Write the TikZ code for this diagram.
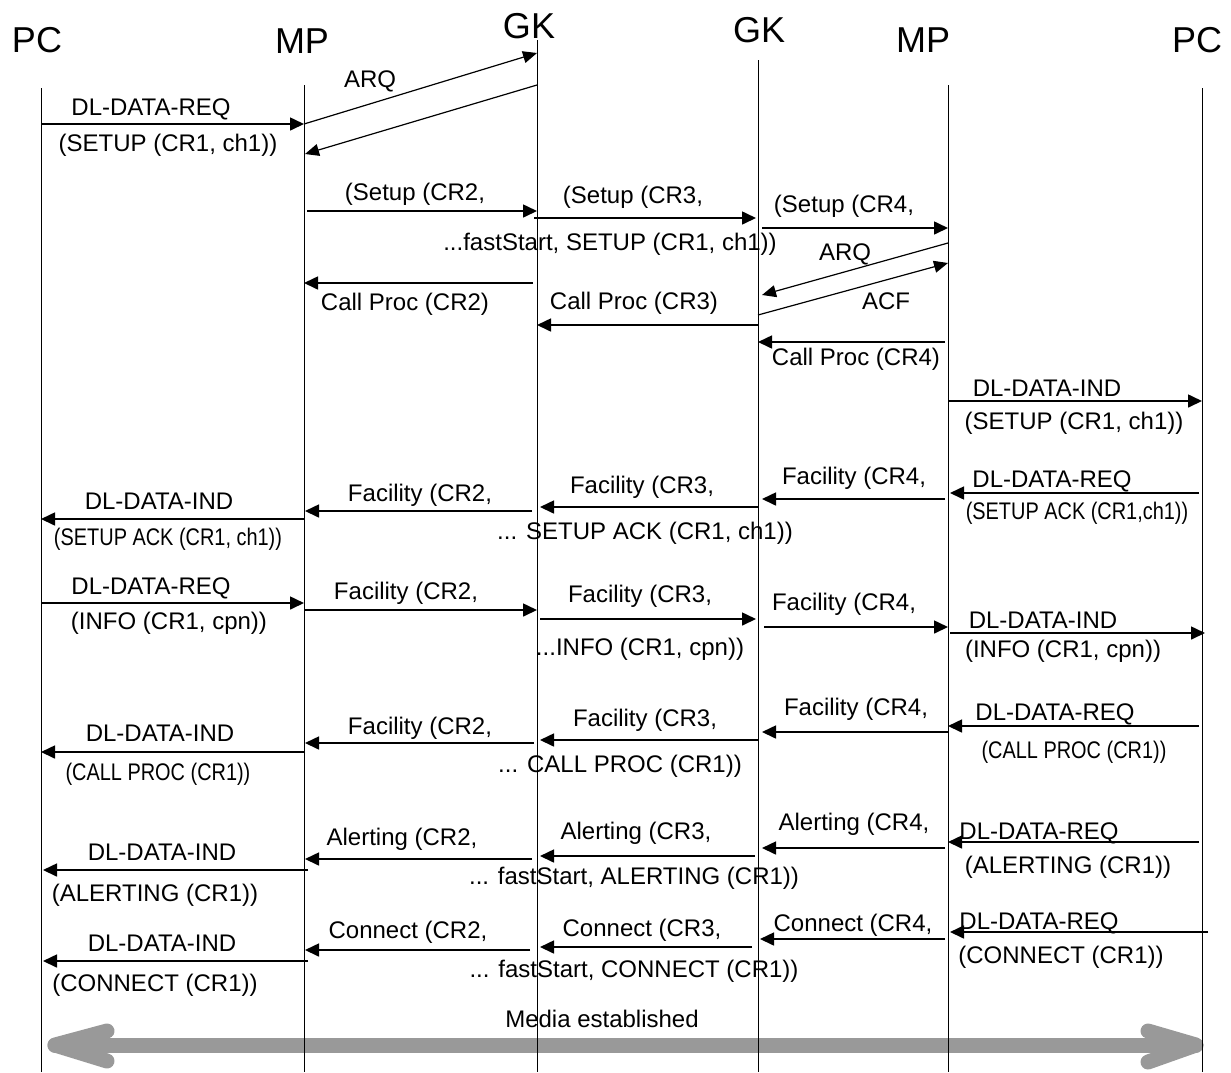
\documentclass[tikz,border=0pt]{standalone}
\usepackage{fontspec}
\setmainfont{Liberation Sans}
\newfontfamily\narrowfont{Liberation Sans}[FakeStretch=0.83]
\usetikzlibrary{arrows.meta,calc}
\definecolor{mediagray}{HTML}{999999}
\tikzset{
  life/.style={line width=1pt, black},
  msg/.style={line width=1.6pt, -{Triangle[length=14pt,width=13pt]}},
  dmsg/.style={line width=1.2pt, -{Triangle[length=14pt,width=12pt]}},
  lbl/.style={inner sep=0pt, text height=17.2pt, text depth=0pt, font=\fontsize{24}{27}\selectfont},
  nlbl/.style={inner sep=0pt, text height=17.2pt, text depth=0pt, font=\narrowfont\fontsize{24}{27}\selectfont},
  hdr/.style={inner sep=0pt, text height=25.8pt, text depth=0pt, font=\fontsize{36}{40}\selectfont},
  media/.style={line width=15pt, draw=mediagray, line cap=round, line join=round},
}
\begin{document}
\begin{tikzpicture}[x=1pt,y=-1pt]
\useasboundingbox (0,0) rectangle (1231,1072);
% lifeline tops
\coordinate (pcl) at (41,88);
\coordinate (mpl) at (304,85);
\coordinate (gkl) at (537,40);
\coordinate (gkr) at (758,60);
\coordinate (mpr) at (948,85);
\coordinate (pcr) at (1202,88);
% headers
\node[hdr] (hpcl) at (37,40) {PC};
\node[hdr] (hmpl) at (302,41) {MP};
\node[hdr] (hgkl) at (529,26) {GK};
\node[hdr] (hgkr) at (759,30) {GK};
\node[hdr] (hmpr) at (923,40) {MP};
\node[hdr] (hpcr) at (1197,40) {PC};
% media established arrow
\coordinate (mL) at (55,1045);
\coordinate (mR) at (1196,1045);
\draw[media] (mL) -- (mR);
\draw[media] ($(mL)+(52,-14)$) -- (mL) -- ($(mL)+(52,16)$);
\draw[media] ($(mR)+(-48,-14)$) -- (mR) -- ($(mR)+(-48,17)$);
% lifelines
\foreach \c in {pcl,mpl,gkl,gkr,mpr,pcr} \draw[life] (\c) -- (\c|-0,1072);
% --- Setup phase
\draw[msg] (pcl|-0,124) -- (mpl|-0,124);
\draw[dmsg] (mpl|-0,124) -- (gkl|-0,53);
\draw[dmsg] (gkl|-0,85) -- ($(mpl|-0,154)+(1,0)$);
\draw[msg] ($(mpl|-0,211)+(3,0)$) -- (gkl|-0,211);
\draw[msg] ($(gkl|-0,218)-(3,0)$) -- ($(gkr|-0,218)-(2,0)$);
\draw[msg] ($(gkr|-0,228)+(4,0)$) -- (mpr|-0,228);
\draw[dmsg] (mpr|-0,243) -- ($(gkr|-0,295)+(4,0)$);
\draw[dmsg] (gkr|-0,315) -- (mpr|-0,263);
\draw[msg] ($(gkl|-0,283)-(4,0)$) -- (mpl|-0,283);
\draw[msg] (gkr|-0,325) -- (gkl|-0,325);
\draw[msg] ($(mpr|-0,342)-(3,0)$) -- (gkr|-0,342);
\draw[msg] (mpr|-0,401) -- (pcr|-0,401);
% --- SETUP ACK
\draw[msg] ($(pcr|-0,493)-(3,0)$) -- ($(mpr|-0,493)+(2,0)$);
\draw[msg] ($(mpr|-0,499)-(3,0)$) -- ($(gkr|-0,499)+(4,0)$);
\draw[msg] (gkr|-0,507) -- ($(gkl|-0,507)+(3,0)$);
\draw[msg] ($(gkl|-0,511)-(5,0)$) -- ($(mpl|-0,511)+(1,0)$);
\draw[msg] (mpl|-0,519) -- (pcl|-0,519);
% --- INFO
\draw[msg] (pcl|-0,603) -- (mpl|-0,603);
\draw[msg] (mpl|-0,610) -- (gkl|-0,610);
\draw[msg] ($(gkl|-0,619)+(3,0)$) -- ($(gkr|-0,619)-(2,0)$);
\draw[msg] ($(gkr|-0,627)+(6,0)$) -- (mpr|-0,627);
\draw[msg] ($(mpr|-0,633)+(2,0)$) -- ($(pcr|-0,633)+(3,0)$);
% --- CALL PROC
\draw[msg] ($(pcr|-0,726)-(3,0)$) -- (mpr|-0,726);
\draw[msg] (mpr|-0,732) -- ($(gkr|-0,732)+(4,0)$);
\draw[msg] (gkr|-0,740) -- ($(gkl|-0,740)+(3,0)$);
\draw[msg] ($(gkl|-0,743)-(3,0)$) -- ($(mpl|-0,743)+(1,0)$);
\draw[msg] ($(mpl|-0,752)+(1,0)$) -- (pcl|-0,752);
% --- ALERTING
\draw[msg] ($(pcr|-0,842)-(3,0)$) -- (mpr|-0,842);
\draw[msg] ($(mpr|-0,848)-(3,0)$) -- ($(gkr|-0,848)+(4,0)$);
\draw[msg] ($(gkr|-0,856)-(3,0)$) -- ($(gkl|-0,856)+(3,0)$);
\draw[msg] ($(gkl|-0,859)-(5,0)$) -- ($(mpl|-0,859)+(1,0)$);
\draw[msg] ($(mpl|-0,870)+(4,0)$) -- ($(pcl|-0,870)+(2,0)$);
% --- CONNECT
\draw[msg] ($(pcr|-0,932)+(6,0)$) -- ($(mpr|-0,932)+(2,0)$);
\draw[msg] ($(mpr|-0,939)-(3,0)$) -- ($(gkr|-0,939)+(2,0)$);
\draw[msg] ($(gkr|-0,947)-(6,0)$) -- ($(gkl|-0,947)+(3,0)$);
\draw[msg] ($(gkl|-0,950)-(7,0)$) -- ($(mpl|-0,950)+(1,0)$);
\draw[msg] ($(mpl|-0,961)+(4,0)$) -- ($(pcl|-0,961)+(2,0)$);
% --- labels
\node[lbl] (l1) at (151,107) {DL-DATA-REQ};
\node[lbl] (l2) at (168,143) {(SETUP (CR1, ch1))};
\node[lbl] (l3) at (370,79) {ARQ};
\node[lbl] (l4) at (415,192) {(Setup (CR2,};
\node[lbl] (l5) at (633,195) {(Setup (CR3,};
\node[lbl] (l6) at (844,204) {(Setup (CR4,};
\node[lbl] (l7) at (610,242) {...fastStart, SETUP (CR1, ch1))};
\node[lbl] (l8) at (405,302) {Call Proc (CR2)};
\node[lbl] (l9) at (634,301) {Call Proc (CR3)};
\node[lbl] (l10) at (845,252) {ARQ};
\node[lbl] (l11) at (886,301) {ACF};
\node[lbl] (l12) at (856,357) {Call Proc (CR4)};
\node[lbl] (l13) at (1047,388) {DL-DATA-IND};
\node[lbl] (l14) at (1074,421) {(SETUP (CR1, ch1))};
\node[lbl] (l15) at (1052,479) {DL-DATA-REQ};
\node[nlbl] (l16) at (1077,511) {(SETUP ACK (CR1,ch1))};
\node[lbl] (l17) at (854,476) {Facility (CR4,};
\node[lbl] (l18) at (642,485) {Facility (CR3,};
\node[lbl] (l19) at (420,493) {Facility (CR2,};
\node[lbl] (l20) at (159,501) {DL-DATA-IND};
\node[nlbl] (l21) at (168,537) {(SETUP ACK (CR1, ch1))};
\node[lbl] (l22) at (645,531) {... SETUP ACK (CR1, ch1))};
\node[lbl] (l23) at (151,586) {DL-DATA-REQ};
\node[lbl] (l24) at (169,621) {(INFO (CR1, cpn))};
\node[lbl] (l25) at (406,591) {Facility (CR2,};
\node[lbl] (l26) at (640,594) {Facility (CR3,};
\node[lbl] (l27) at (844,602) {Facility (CR4,};
\node[lbl] (l28) at (1043,620) {DL-DATA-IND};
\node[lbl] (l29) at (1063,649) {(INFO (CR1, cpn))};
\node[lbl] (l30) at (640,647) {...INFO (CR1, cpn))};
\node[lbl] (l31) at (1055,712) {DL-DATA-REQ};
\node[nlbl] (l32) at (1074,750) {(CALL PROC (CR1))};
\node[lbl] (l33) at (856,707) {Facility (CR4,};
\node[lbl] (l34) at (645,718) {Facility (CR3,};
\node[lbl] (l35) at (420,726) {Facility (CR2,};
\node[lbl] (l36) at (160,733) {DL-DATA-IND};
\node[nlbl] (l37) at (158,772) {(CALL PROC (CR1))};
\node[lbl] (l38) at (620,764) {... CALL PROC (CR1))};
\node[lbl] (l39) at (1039,831) {DL-DATA-REQ};
\node[lbl] (l40) at (1068,865) {(ALERTING (CR1))};
\node[lbl] (l41) at (854,822) {Alerting (CR4,};
\node[lbl] (l42) at (636,831) {Alerting (CR3,};
\node[lbl] (l43) at (402,837) {Alerting (CR2,};
\node[lbl] (l44) at (162,852) {DL-DATA-IND};
\node[lbl] (l45) at (155,893) {(ALERTING (CR1))};
\node[lbl] (l46) at (634,876) {... fastStart, ALERTING (CR1))};
\node[lbl] (l47) at (1039,921) {DL-DATA-REQ};
\node[lbl] (l48) at (1061,955) {(CONNECT (CR1))};
\node[lbl] (l49) at (853,923) {Connect (CR4,};
\node[lbl] (l50) at (642,928) {Connect (CR3,};
\node[lbl] (l51) at (408,930) {Connect (CR2,};
\node[lbl] (l52) at (162,943) {DL-DATA-IND};
\node[lbl] (l53) at (155,983) {(CONNECT (CR1))};
\node[lbl] (l54) at (634,969) {... fastStart, CONNECT (CR1))};
\node[lbl] (l55) at (602,1019) {Media established};
\end{tikzpicture}
\end{document}
